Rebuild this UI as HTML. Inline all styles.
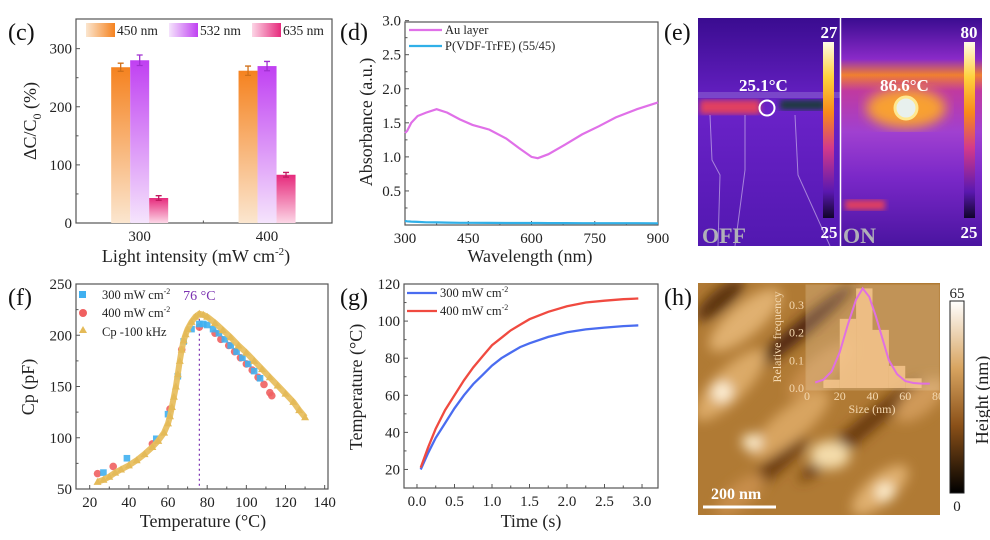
<!DOCTYPE html>
<html><head><meta charset="utf-8">
<style>
body{margin:0;background:#fff;}
svg{display:block;font-family:"Liberation Serif",serif;}
.tk{font-size:15px;fill:#222;}
.tt{font-size:18px;fill:#222;}
.pl{font-size:24px;fill:#111;}
.lg{font-size:12.5px;fill:#222;}
</style></head>
<body>
<svg id="fig" width="990" height="540" viewBox="0 0 990 540">
<defs>
<linearGradient id="gOr" x1="0" y1="0" x2="0" y2="1"><stop offset="0" stop-color="#f5821f"/><stop offset="1" stop-color="#fbe6cf"/></linearGradient>
<linearGradient id="gPu" x1="0" y1="0" x2="0" y2="1"><stop offset="0" stop-color="#c040f2"/><stop offset="1" stop-color="#f5e4fc"/></linearGradient>
<linearGradient id="gPk" x1="0" y1="0" x2="0" y2="1"><stop offset="0" stop-color="#e62a7c"/><stop offset="1" stop-color="#fcd6e6"/></linearGradient>
<linearGradient id="gOrH" x1="0" y1="0" x2="1" y2="0"><stop offset="0" stop-color="#fbe6cf"/><stop offset="1" stop-color="#f5821f"/></linearGradient>
<linearGradient id="gPuH" x1="0" y1="0" x2="1" y2="0"><stop offset="0" stop-color="#f5e4fc"/><stop offset="1" stop-color="#c040f2"/></linearGradient>
<linearGradient id="gPkH" x1="0" y1="0" x2="1" y2="0"><stop offset="0" stop-color="#fcd6e6"/><stop offset="1" stop-color="#e62a7c"/></linearGradient>
<linearGradient id="gHeat" x1="0" y1="0" x2="0" y2="1"><stop offset="0" stop-color="#fffbe8"/><stop offset="0.2" stop-color="#ffd23c"/><stop offset="0.4" stop-color="#f88a1a"/><stop offset="0.6" stop-color="#d43a8a"/><stop offset="0.85" stop-color="#5a18b0"/><stop offset="1" stop-color="#10052a"/></linearGradient>
<linearGradient id="gOff" x1="0" y1="0" x2="0" y2="1"><stop offset="0" stop-color="#3a0c90"/><stop offset="0.4" stop-color="#6a22c8"/><stop offset="1" stop-color="#5218b0"/></linearGradient>
<linearGradient id="gOn" x1="0" y1="0" x2="0" y2="1"><stop offset="0" stop-color="#3a0c90"/><stop offset="0.18" stop-color="#8a2ac8"/><stop offset="0.25" stop-color="#f08030"/><stop offset="0.32" stop-color="#c03aa0"/><stop offset="0.5" stop-color="#a040d0"/><stop offset="0.7" stop-color="#7a28c8"/><stop offset="1" stop-color="#4a14a0"/></linearGradient>
<linearGradient id="gAfmBar" x1="0" y1="0" x2="0" y2="1"><stop offset="0" stop-color="#ffffff"/><stop offset="0.35" stop-color="#d8a460"/><stop offset="0.65" stop-color="#8a5018"/><stop offset="1" stop-color="#000"/></linearGradient>
<filter id="blur6"><feGaussianBlur stdDeviation="6"/></filter>
<filter id="blur3"><feGaussianBlur stdDeviation="3"/></filter>
<clipPath id="clipAfm"><rect x="698" y="283" width="242" height="232"/></clipPath>
<clipPath id="clipOff"><rect x="698" y="18" width="142" height="228"/></clipPath>
<clipPath id="clipOn"><rect x="841" y="18" width="141" height="228"/></clipPath>
</defs>

<text class="pl" x="8" y="40">(c)</text>
<text class="pl" x="340" y="40">(d)</text>
<text class="pl" x="664" y="40">(e)</text>
<text class="pl" x="8" y="305">(f)</text>
<text class="pl" x="340" y="305">(g)</text>
<text class="pl" x="664" y="305">(h)</text>

<g id="pc"></g>
<g id="pd"></g>
<g id="pf"></g>
<g id="pg"></g>

<g>
 <g clip-path="url(#clipOff)">
  <rect x="698" y="18" width="142" height="228" fill="url(#gOff)"/>
  <rect x="700" y="100" width="60" height="14" fill="#e04060" filter="url(#blur3)"/>
  <rect x="780" y="100" width="45" height="10" fill="#1a3a40" filter="url(#blur3)"/>
  <rect x="698" y="92" width="142" height="6" fill="#8a60d0" opacity="0.6"/>
  <path d="M710 115 L712 160 L720 175 L718 246 M745 115 L745 170 L735 246 M795 115 L798 175 L830 246" stroke="#d8c8f0" stroke-width="1" fill="none" opacity="0.6"/>
 </g>
 <g clip-path="url(#clipOn)">
  <rect x="841" y="18" width="141" height="228" fill="url(#gOn)"/>
  <ellipse cx="906" cy="108" rx="40" ry="20" fill="#f8a030" filter="url(#blur6)"/>
  <rect x="845" y="200" width="40" height="10" fill="#e04060" filter="url(#blur3)"/>
 </g>
 <line x1="840.5" y1="18" x2="840.5" y2="246" stroke="#fff" stroke-width="1.5"/>
 <rect x="823" y="42" width="11" height="176" fill="url(#gHeat)"/>
 <rect x="964" y="42" width="11" height="176" fill="url(#gHeat)"/>
 <text x="829" y="38" text-anchor="middle" font-size="17" font-weight="bold" fill="#fff">27</text>
 <text x="829" y="238" text-anchor="middle" font-size="17" font-weight="bold" fill="#fff">25</text>
 <text x="969" y="38" text-anchor="middle" font-size="17" font-weight="bold" fill="#fff">80</text>
 <text x="969" y="238" text-anchor="middle" font-size="17" font-weight="bold" fill="#fff">25</text>
 <text x="739" y="91" font-size="17" font-weight="bold" fill="#fff">25.1°C</text>
 <circle cx="767" cy="108" r="7.5" fill="none" stroke="#fff" stroke-width="2"/>
 <text x="880" y="91" font-size="17" font-weight="bold" fill="#fff">86.6°C</text>
 <circle cx="906" cy="108" r="11" fill="#e8f0ee" stroke="#ffe890" stroke-width="3"/>
 <text x="702" y="243" font-size="22" font-weight="bold" fill="#b0b0b8">OFF</text>
 <text x="843" y="243" font-size="22" font-weight="bold" fill="#b0b0b8">ON</text>
</g>

<g>
 <g clip-path="url(#clipAfm)">
  <rect x="698" y="283" width="242" height="232" fill="#b07a34"/>
  <g filter="url(#blur6)">
   <ellipse cx="720" cy="300" rx="30" ry="10" fill="#5a300a" transform="rotate(-40 720 300)"/>
   <ellipse cx="800" cy="330" rx="70" ry="8" fill="#4a2408" transform="rotate(-40 800 330)"/>
   <ellipse cx="860" cy="430" rx="80" ry="9" fill="#6a3a10" transform="rotate(-40 860 430)"/>
   <ellipse cx="770" cy="470" rx="50" ry="8" fill="#6a3a10" transform="rotate(-40 770 470)"/>
   <ellipse cx="745" cy="320" rx="45" ry="16" fill="#e0b070" transform="rotate(-40 745 320)"/>
   <ellipse cx="730" cy="385" rx="48" ry="16" fill="#dcaa68" transform="rotate(-45 730 385)"/>
   <ellipse cx="722" cy="392" rx="10" ry="10" fill="#fff2d8"/>
   <ellipse cx="790" cy="425" rx="50" ry="16" fill="#d8a460" transform="rotate(-40 790 425)"/>
   <ellipse cx="752" cy="442" rx="10" ry="8" fill="#fff0d0"/>
   <ellipse cx="830" cy="455" rx="20" ry="14" fill="#f4dcaa"/>
   <ellipse cx="880" cy="490" rx="35" ry="14" fill="#e0b070" transform="rotate(-40 880 490)"/>
   <ellipse cx="885" cy="492" rx="9" ry="9" fill="#fff0d0"/>
   <ellipse cx="920" cy="400" rx="30" ry="14" fill="#d09a58" transform="rotate(-40 920 400)"/>
   <ellipse cx="820" cy="370" rx="40" ry="14" fill="#c88e4c" transform="rotate(-40 820 370)"/>
   <ellipse cx="740" cy="495" rx="30" ry="12" fill="#c88e4c" transform="rotate(-40 740 495)"/>
  </g>
  <g>
   <rect x="806" y="285" width="133" height="105" fill="#f5e0c0" opacity="0.25" stroke="#f0d8b0" stroke-width="1"/>
   <g id="ph"></g>
  </g>
 </g>
 <rect x="950" y="301" width="14" height="192" fill="url(#gAfmBar)" stroke="#222" stroke-width="1"/>
 <text x="957" y="298" text-anchor="middle" class="tk" font-size="16">65</text>
 <text x="957" y="511" text-anchor="middle" class="tk" font-size="16">0</text>
 <text transform="translate(988 400) rotate(-90)" text-anchor="middle" class="tt">Height (nm)</text>
 <line x1="703" y1="507" x2="776" y2="507" stroke="#fff" stroke-width="3"/>
 <text x="711" y="499" font-size="16" font-weight="bold" fill="#fff">200 nm</text>
</g>

<script>
// ---------- Panel c data ----------
const cCats = [300, 400];
const cSeriesNames = ['450 nm', '532 nm', '635 nm'];
const c450 = [268, 262];
const c532 = [280, 270];
const c635 = [43, 83];
const c450Err = [7, 8];
const c532Err = [9, 8];
const c635Err = [4, 4];
const cYTicks = [0, 100, 200, 300];

// ---------- Panel d data ----------
const dWave = [300,305,315,330,350,375,400,430,460,500,540,570,600,615,640,680,720,760,800,850,900];
const dAu = [1.35,1.38,1.5,1.6,1.65,1.7,1.65,1.55,1.47,1.4,1.27,1.13,1.0,0.98,1.04,1.18,1.33,1.45,1.58,1.7,1.8];
const dPol = [0.06,0.055,0.05,0.045,0.04,0.038,0.035,0.033,0.032,0.031,0.03,0.03,0.03,0.029,0.028,0.028,0.027,0.027,0.026,0.026,0.025];
const dYTicks = [0.5,1.0,1.5,2.0,2.5,3.0];
const dXTicks = [300,450,600,750,900];

// ---------- Panel f data ----------
const fTriT = [24,27,30,33,36,40,44,48,52,55,58,60,61,62,63,64,65,66,67,68,69,70,72,74,76,78,80,84,88,92,96,100,104,108,112,116,120,124,127,130];
const fTriC = [57,59,62,66,69,73,78,84,91,97,105,114,121,130,140,150,162,175,186,195,201,206,213,218,221,220,218,212,205,198,190,183,175,167,159,151,143,135,127,120];
const fSqT = [27,39,54,60,65,68,72,76,78,80,83,86,89,92,95,98,101,104,107];
const fSqC = [66,80,99,123,160,194,206,211,211,210,206,202,196,190,184,178,172,165,158];
const fCiT = [24,32,52,61,67,76,84,87,91,94,97,100,103,106,109,112,113];
const fCiC = [65,72,94,128,186,208,202,196,190,184,178,172,166,159,152,144,141];
const fYTicks = [50,100,150,200,250];
const fXTicks = [20,40,60,80,100,120,140];
const fPeak = 76;

// ---------- Panel g data ----------
const gTime = [0.05,0.15,0.25,0.375,0.5,0.625,0.75,0.875,1.0,1.125,1.25,1.375,1.5,1.75,2.0,2.25,2.5,2.75,2.95];
const g300 = [20,29,37,45,53,60,66,71,76,80,83,86,88,91.5,94,95.5,96.5,97.3,97.7];
const g400 = [21,32,42,52,60,68,75,81,87,91,95,98,101,105,108,110,111,111.8,112.2];
const gYTicks = [20,40,60,80,100,120];
const gXTicks = [0,0.5,1.0,1.5,2.0,2.5,3.0];

// ---------- Panel h inset data ----------
const hBinStart = [10,20,30,40,50,60];
const hFreq = [0.03,0.25,0.36,0.21,0.08,0.035];
const hFitSize = [5,10,15,20,25,30,34,38,42,46,50,55,60,65,70,75];
const hFitVal = [0.02,0.03,0.06,0.13,0.23,0.32,0.36,0.33,0.26,0.18,0.1,0.05,0.025,0.018,0.016,0.016];
const hXTicks = [0,20,40,60,80];
const hYTicks = [0.0,0.1,0.2,0.3];

const NS = 'http://www.w3.org/2000/svg';
function mk(parent, tag, attrs, txt){
  const e = document.createElementNS(NS, tag);
  for (const k in attrs) e.setAttribute(k, attrs[k]);
  if (txt !== undefined) e.textContent = txt;
  parent.appendChild(e);
  return e;
}
// parts: [text, fontSize or null, dy]
function rich(parent, attrs, parts){
  const t = mk(parent,'text',attrs);
  parts.forEach(p=>{
    const a = {};
    if (p[1]) a['font-size'] = p[1];
    if (p[2]) a['dy'] = p[2];
    mk(t,'tspan',a,p[0]);
  });
  return t;
}
function lin(d0,d1,r0,r1){ return v => r0 + (v-d0)*(r1-r0)/(d1-d0); }
function fmt(v,dec){ return dec ? v.toFixed(dec) : String(v); }

function axes(g, box, sx, sy, yt, xt, ydec, xdec, minorY, minorX){
  const fr = mk(g,'rect',{x:box.l,y:box.t,width:box.r-box.l,height:box.b-box.t,fill:'none',stroke:'#555','stroke-width':1.2});
  
  
  yt.forEach(v=>{
    const y = sy(v);
    mk(g,'line',{x1:box.l,y1:y,x2:box.l+4,y2:y,stroke:'#555'});
    const t = mk(g,'text',{x:box.l-4,y:y+5,'text-anchor':'end',class:'tk'},fmt(v,ydec));
    
    
  });
  minorY.forEach(v=>{ const y=sy(v); mk(g,'line',{x1:box.l,y1:y,x2:box.l+2.5,y2:y,stroke:'#555'}); });
  xt.forEach(v=>{
    const x = sx(v);
    mk(g,'line',{x1:x,y1:box.b,x2:x,y2:box.b-4,stroke:'#555'});
    const t = mk(g,'text',{x:x,y:box.b+18,'text-anchor':'middle',class:'tk'},fmt(v,xdec));
    
    
  });
  minorX.forEach(v=>{ const x=sx(v); mk(g,'line',{x1:x,y1:box.b,x2:x,y2:box.b-2.5,stroke:'#555'}); });
}
function pathOf(xs,ys,sx,sy){ return xs.map((v,i)=>(i?'L':'M')+sx(v).toFixed(1)+' '+sy(ys[i]).toFixed(1)).join(' '); }
function plainTitle(g,attrs,txt,name){
  const t = mk(g,'text',attrs,txt);
  
  
}

// ---------- Panel c ----------
(function(){
  const g = document.getElementById('pc');
  const box = {l:76,t:19,r:332,b:223};
  const sx = lin(250,451,box.l,box.r), sy = lin(0,351,box.b,box.t);
  axes(g,box,sx,sy,cYTicks,cCats,0,0,[50,150,250],[350]);
  const series = [c450,c532,c635], errs=[c450Err,c532Err,c635Err];
  const fills=['url(#gOr)','url(#gPu)','url(#gPk)'], ecol=['#d0701a','#a030d0','#c01a60'];
  const bw = 19;
  cCats.forEach((cat,i)=>{
    series.forEach((s,j)=>{
      const x = sx(cat) - 1.5*bw + j*bw;
      const r = mk(g,'rect',{x:x,y:sy(s[i]),width:bw,height:sy(0)-sy(s[i]),fill:fills[j]});
      
      
      const cx = x+bw/2, e=errs[j][i];
      mk(g,'path',{d:`M${cx} ${sy(s[i]-e)}V${sy(s[i]+e)}M${cx-3} ${sy(s[i]+e)}H${cx+3}M${cx-3} ${sy(s[i]-e)}H${cx+3}`,stroke:ecol[j],'stroke-width':1.3,fill:'none'});
    });
  });
  const lf=['url(#gOrH)','url(#gPuH)','url(#gPkH)'], lx=[86,169,252];
  cSeriesNames.forEach((n,j)=>{
    const r = mk(g,'rect',{x:lx[j],y:23,width:29,height:14,fill:lf[j]});
    
    
    const t = mk(g,'text',{x:lx[j]+31,y:35,class:'lg',style:'font-size:13.5px'},n);
    
    
  });
  const yt = rich(g,{transform:'translate(36 121) rotate(-90)','text-anchor':'middle',class:'tt'},[['ΔC/C'],['0',12,5],[' (%)',null,-5]]);
  
  
  const xt = rich(g,{x:196,y:262,'text-anchor':'middle',class:'tt'},[['Light intensity (mW cm'],['-2',11,-7],[')',null,7]]);
  
  
})();

// ---------- Panel d ----------
(function(){
  const g = document.getElementById('pd');
  const box = {l:405,t:22,r:658,b:225};
  const sx = lin(300,900,box.l,box.r), sy = lin(0,2.98,box.b,box.t);
  axes(g,box,sx,sy,dYTicks,dXTicks,1,0,[0.25,0.75,1.25,1.75,2.25,2.75],[375,525,675,825]);
  const p1 = mk(g,'path',{d:pathOf(dWave,dAu,sx,sy),stroke:'#e070e8','stroke-width':2.2,fill:'none'});
  
  
  const p2 = mk(g,'path',{d:pathOf(dWave,dPol,sx,sy),stroke:'#30b0e8','stroke-width':2.2,fill:'none'});
  
  
  mk(g,'line',{x1:409,y1:30,x2:442,y2:30,stroke:'#e070e8','stroke-width':2.2});
  mk(g,'line',{x1:409,y1:46,x2:442,y2:46,stroke:'#30b0e8','stroke-width':2.2});
  const l1 = mk(g,'text',{x:445,y:34,class:'lg'},'Au layer');
  
  
  const l2 = mk(g,'text',{x:445,y:50,class:'lg'},'P(VDF-TrFE) (55/45)');
  
  
  plainTitle(g,{transform:'translate(372 122) rotate(-90)','text-anchor':'middle',class:'tt'},'Absorbance (a.u.)','y-axis-title');
  plainTitle(g,{x:530,y:262,'text-anchor':'middle',class:'tt'},'Wavelength (nm)','x-axis-title');
})();

// ---------- Panel f ----------
(function(){
  const g = document.getElementById('pf');
  const box = {l:76,t:284,r:328,b:489};
  const sx = lin(13,141.7,box.l,box.r), sy = lin(50,250,box.b,box.t);
  axes(g,box,sx,sy,fYTicks,fXTicks,0,0,[75,125,175,225],[30,50,70,90,110,130]);
  const vx = sx(fPeak);
  const dl = mk(g,'line',{x1:vx,y1:sy(fTriC[fTriT.indexOf(fPeak)]||220),x2:vx,y2:box.b,stroke:'#7a30b0','stroke-width':1.2,'stroke-dasharray':'2 3'});
  
  
  const pt = mk(g,'text',{x:vx,y:300,'text-anchor':'middle',fill:'#7a30b0','font-size':14},fPeak+' °C');
  
  
  fCiT.forEach((t,i)=>{
    const c = mk(g,'circle',{cx:sx(t),cy:sy(fCiC[i]),r:3.8,fill:'#f06060',opacity:0.9});
    
    
  });
  fSqT.forEach((t,i)=>{
    const r = mk(g,'rect',{x:sx(t)-3.3,y:sy(fSqC[i])-3.3,width:6.6,height:6.6,fill:'#40b0f0',opacity:0.9});
    
    
  });
  const tl = mk(g,'path',{d:pathOf(fTriT,fTriC,sx,sy),stroke:'#e8bf60','stroke-width':6,fill:'none','stroke-linejoin':'round',opacity:0.95});
  
  
  fTriT.forEach((t,i)=>{
    const x=sx(t), y=sy(fTriC[i]);
    const p = mk(g,'path',{d:`M${x} ${y-4}L${x+4} ${y+3}L${x-4} ${y+3}Z`,fill:'#e4ba58'});
    
    
  });
  const s = mk(g,'rect',{x:79,y:291,width:7,height:7,fill:'#40b0f0'});
  
  
  const c = mk(g,'circle',{cx:83,cy:313,r:4,fill:'#f06060'});
  
  
  const tr = mk(g,'path',{d:'M83 326L87 333L79 333Z',fill:'#e4ba58'});
  
  
  const l1 = rich(g,{x:102,y:299,class:'lg'},[['300 mW cm'],['-2',8,-5]]);
  
  
  const l2 = rich(g,{x:102,y:317,class:'lg'},[['400 mW cm'],['-2',8,-5]]);
  
  
  const l3 = mk(g,'text',{x:102,y:336,class:'lg'},'Cp -100 kHz');
  
  
  plainTitle(g,{transform:'translate(34 387) rotate(-90)','text-anchor':'middle',class:'tt'},'Cp (pF)','y-axis-title');
  plainTitle(g,{x:203,y:527,'text-anchor':'middle',class:'tt'},'Temperature (°C)','x-axis-title');
})();

// ---------- Panel g ----------
(function(){
  const g = document.getElementById('pg');
  const box = {l:404,t:284,r:658,b:488};
  const sx = lin(-0.173,3.213,box.l,box.r), sy = lin(10,120,box.b,box.t);
  axes(g,box,sx,sy,gYTicks,gXTicks,0,1,[30,50,70,90,110],[0.25,0.75,1.25,1.75,2.25,2.75]);
  const p1 = mk(g,'path',{d:pathOf(gTime,g300,sx,sy),stroke:'#4a6cf0','stroke-width':2.3,fill:'none'});
  
  
  const p2 = mk(g,'path',{d:pathOf(gTime,g400,sx,sy),stroke:'#f04a40','stroke-width':2.3,fill:'none'});
  
  
  mk(g,'line',{x1:407,y1:293,x2:437,y2:293,stroke:'#4a6cf0','stroke-width':2.3});
  mk(g,'line',{x1:407,y1:311,x2:437,y2:311,stroke:'#f04a40','stroke-width':2.3});
  const l1 = rich(g,{x:440,y:297,class:'lg'},[['300 mW cm'],['-2',8,-5]]);
  
  
  const l2 = rich(g,{x:440,y:315,class:'lg'},[['400 mW cm'],['-2',8,-5]]);
  
  
  plainTitle(g,{transform:'translate(362 387) rotate(-90)','text-anchor':'middle',class:'tt'},'Temperature (°C)','y-axis-title');
  plainTitle(g,{x:531,y:527,'text-anchor':'middle',class:'tt'},'Time (s)','x-axis-title');
})();

// ---------- Panel h inset ----------
(function(){
  const g = document.getElementById('ph');
  const sx = lin(0,80,807,938), sy = lin(0,0.3,388,305);
  hFreq.forEach((f,i)=>{
    const x0 = sx(hBinStart[i]), x1 = sx(hBinStart[i]+10);
    const r = mk(g,'rect',{x:x0,y:sy(f),width:x1-x0,height:sy(0)-sy(f),fill:'#f8c890',opacity:0.8});
    
    
  });
  const p = mk(g,'path',{d:pathOf(hFitSize,hFitVal,sx,sy),stroke:'#e070e0','stroke-width':2,fill:'none'});
  
  
  hXTicks.forEach(v=>{
    const t = mk(g,'text',{x:sx(v),y:400,'text-anchor':'middle','font-size':12,fill:'#f4d8b0'},String(v));
    
    
  });
  hYTicks.forEach(v=>{
    const t = mk(g,'text',{x:804,y:sy(v)+4,'text-anchor':'end','font-size':12,fill:'#f4d8b0'},v.toFixed(1));
    
    
  });
  const xt = mk(g,'text',{x:872,y:413,'text-anchor':'middle','font-size':12,fill:'#f4d8b0'},'Size (nm)');
  
  
  const yt = mk(g,'text',{transform:'translate(781 337) rotate(-90)','text-anchor':'middle','font-size':12,fill:'#f4d8b0'},'Relative frequency');
  
  
})();
</script>
</svg>
</body></html>
